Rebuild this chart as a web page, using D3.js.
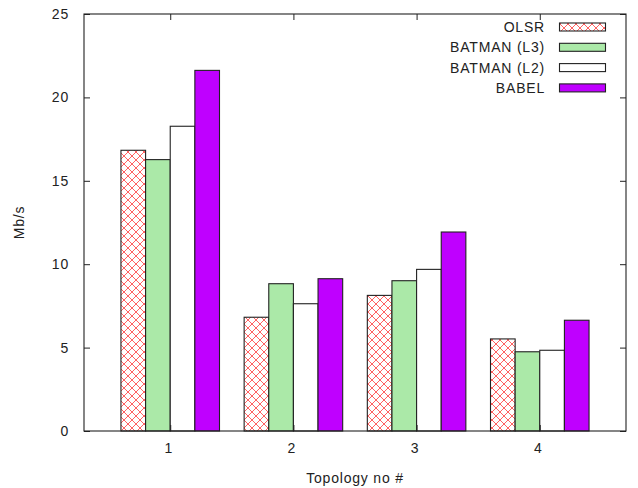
<!DOCTYPE html>
<html>
<head>
<meta charset="utf-8">
<script src="https://cdn.jsdelivr.net/npm/d3@7"></script>
<style>
  html, body { margin: 0; padding: 0; background: #fff; }
  svg { display: block; }
  text { font-family: "Liberation Sans", Arial, sans-serif; font-size: 14px; fill: #222; letter-spacing: 0.8px; }
</style>
</head>
<body>
<svg id="chart" width="638" height="488"></svg>
<script>
const categories = ["1", "2", "3", "4"];
const seriesNames = ["OLSR", "BATMAN (L3)", "BATMAN (L2)", "BABEL"];
const olsr     = [16.83, 6.82, 8.13, 5.52];
const batmanL3 = [16.27, 8.83, 9.01, 4.75];
const batmanL2 = [18.27, 7.63, 9.69, 4.84];
const babel    = [21.62, 9.13, 11.93, 6.64];
const yTicks = [0, 5, 10, 15, 20, 25];
const yLabel = "Mb/s";
const xLabel = "Topology no #";

const series = [olsr, batmanL3, batmanL2, babel];
const fills = ["url(#crosshatch)", "#abe9a8", "#ffffff", "#bf00ff"];

const svg = d3.select("#chart");
const L = 84, R = 626, T = 14, B = 431;

const x = d3.scaleLinear().domain([-0.7, 3.7]).range([L, R]);
const y = d3.scaleLinear().domain([0, 25]).range([B, T]);
const barW = 0.2;

// pattern
const defs = svg.append("defs");
const pat = defs.append("pattern").attr("id", "crosshatch")
  .attr("patternUnits", "userSpaceOnUse").attr("width", 8).attr("height", 8);
pat.append("rect").attr("width", 8).attr("height", 8).attr("fill", "#fff");
pat.append("path").attr("d", "M0,0 L8,8 M8,0 L0,8 M-1,7 L1,9 M7,-1 L9,1 M-1,1 L1,-1 M7,9 L9,7")
  .attr("stroke", "#ff5050").attr("stroke-width", 0.9).attr("fill", "none");

// bars
series.forEach((vals, j) => {
  svg.append("g").selectAll("rect").data(vals).join("rect")
    .attr("x", (d, i) => x(i - 0.4 + j * barW))
    .attr("width", x(barW) - x(0))
    .attr("y", d => y(d))
    .attr("height", d => y(0) - y(d))
    .attr("fill", fills[j])
    .attr("stroke", "#222")
    .attr("stroke-width", 1.1);
});

// axes
const yAxisL = d3.axisLeft(y).tickValues(yTicks).tickSizeInner(-6).tickSizeOuter(0).tickPadding(15);
const gl = svg.append("g").attr("transform", `translate(${L},0)`).call(yAxisL);
const yAxisR = d3.axisRight(y).tickValues(yTicks).tickSizeInner(-6).tickSizeOuter(0).tickFormat("");
const gr = svg.append("g").attr("transform", `translate(${R},0)`).call(yAxisR);
const xAxisB = d3.axisBottom(x).tickValues(d3.range(categories.length))
  .tickFormat(i => categories[i]).tickSizeInner(-6).tickSizeOuter(0).tickPadding(12);
const gb = svg.append("g").attr("transform", `translate(0,${B})`).call(xAxisB);
const xAxisT = d3.axisTop(x).tickValues(d3.range(categories.length))
  .tickSizeInner(-6).tickSizeOuter(0).tickFormat("");
const gt = svg.append("g").attr("transform", `translate(0,${T})`).call(xAxisT);
[gl, gr, gb, gt].forEach(g => {
  g.select(".domain").remove();
  g.selectAll(".tick line").attr("stroke", "#222");
  g.selectAll("text").attr("font-family", null).attr("font-size", null).attr("fill", null);
});
gb.selectAll(".tick text").attr("dx", "-2");

// border
svg.append("rect").attr("x", L).attr("y", T).attr("width", R - L).attr("height", B - T)
  .attr("fill", "none").attr("stroke", "#222").attr("stroke-width", 1.1);

// axis labels
svg.append("text").attr("transform", `translate(24,${(T + B) / 2}) rotate(-90)`)
  .attr("text-anchor", "middle").text(yLabel);
svg.append("text").attr("x", (L + R) / 2).attr("y", 483)
  .attr("text-anchor", "middle").text(xLabel);

// legend
const legY = [27, 47.3, 67.6, 87.9];
seriesNames.forEach((name, j) => {
  svg.append("text").attr("x", 545).attr("y", legY[j]).attr("dy", "0.36em")
    .attr("text-anchor", "end").text(name);
  svg.append("rect").attr("x", 559.5).attr("y", legY[j] - 4).attr("width", 46).attr("height", 8)
    .attr("fill", fills[j]).attr("stroke", "#222").attr("stroke-width", 1.1);
});
</script>
</body>
</html>
